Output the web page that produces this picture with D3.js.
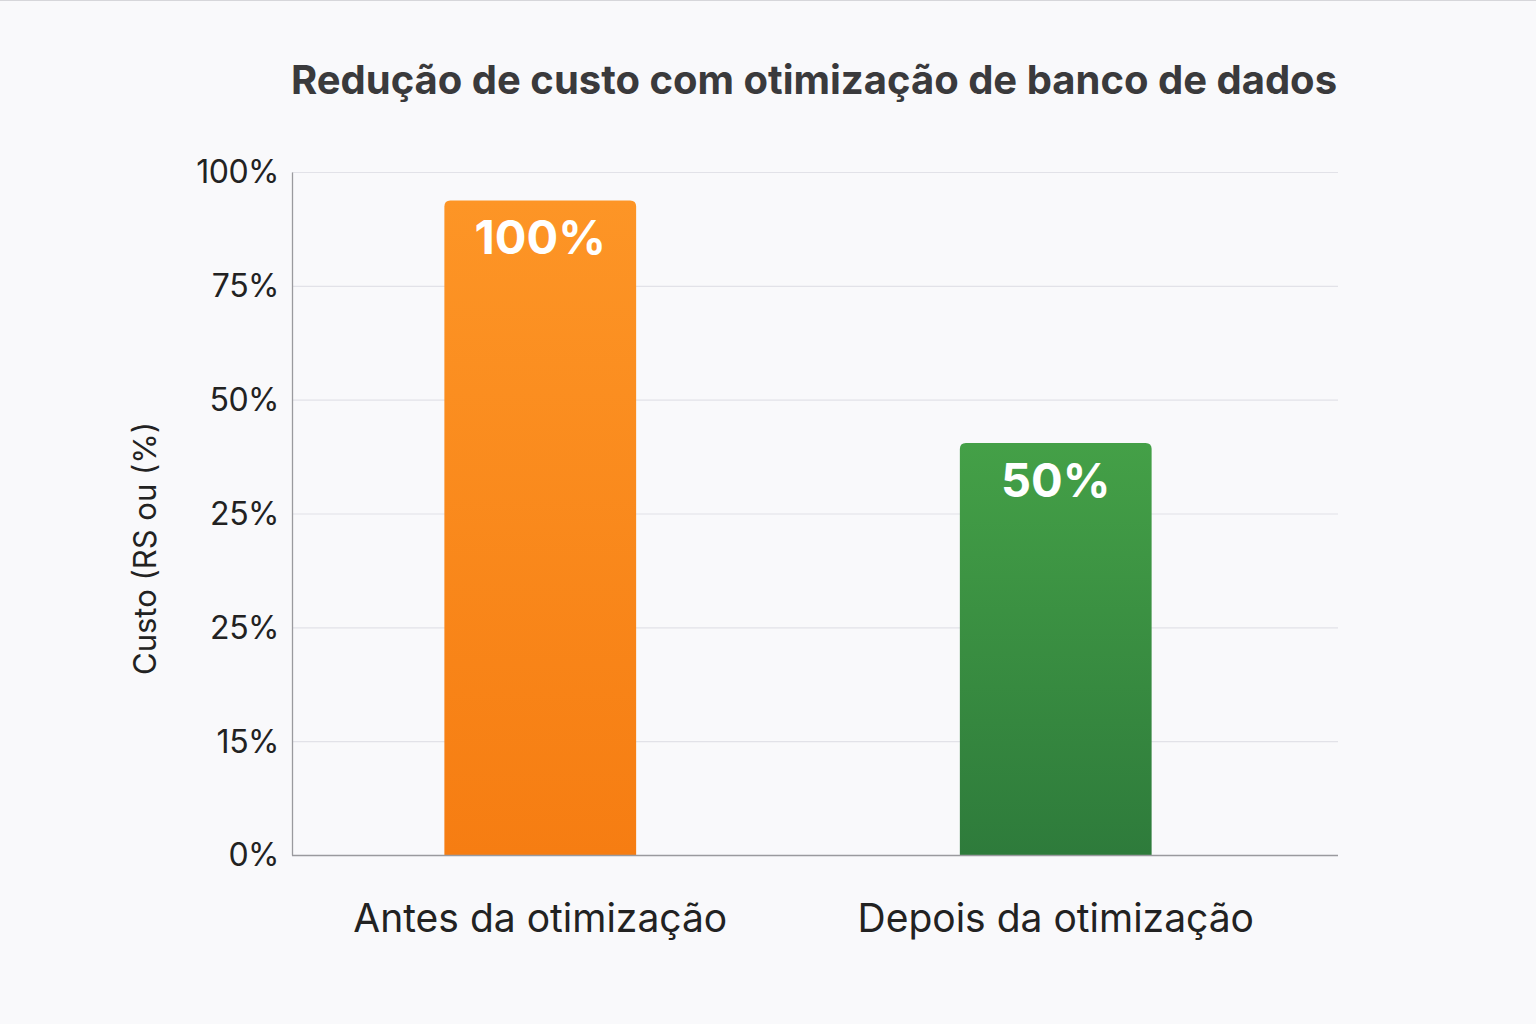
<!DOCTYPE html>
<html>
<head>
<meta charset="utf-8">
<script src="https://cdn.jsdelivr.net/npm/d3@7"></script>
<style>
  html, body { margin: 0; padding: 0; background: #f9f9fb; }
  svg { display: block; font-family: Inter, "Noto Sans", sans-serif; }
</style>
</head>
<body>
<div id="chart"></div>
<script>
// categorias e valores (altura da barra em unidades de linha de grade)
const categories = ["Antes da otimização", "Depois da otimização"];
const barHeights = [5.75, 3.62];
const barLabels = ["100%", "50%"];
// rótulos do eixo y, de baixo para cima, igualmente espaçados como no original
const tickLabels = ["0%", "15%", "25%", "25%", "50%", "75%", "100%"];

const width = 1536, height = 1024;
const margin = { top: 172, right: 198, bottom: 169, left: 292 };
const chartWidth = width - margin.left - margin.right;
const chartHeight = height - margin.top - margin.bottom;
const fontFamily = 'Inter, "Noto Sans", sans-serif';

const svg = d3.select("#chart").append("svg")
    .attr("width", width)
    .attr("height", height);

svg.append("rect")
    .attr("width", width)
    .attr("height", height)
    .attr("fill", "#f9f9fb");

svg.append("line")
    .attr("x1", 0).attr("x2", width)
    .attr("y1", 0.5).attr("y2", 0.5)
    .attr("stroke", "#d6d6da");

// degradês das barras
const defs = svg.append("defs");
const gradients = [
    { id: "gradOrange", top: "#fd9526", bottom: "#f67d12" },
    { id: "gradGreen", top: "#44a047", bottom: "#2e7b3b" }
];
gradients.forEach(gr => {
    const lg = defs.append("linearGradient")
        .attr("id", gr.id)
        .attr("x1", 0).attr("y1", 0).attr("x2", 0).attr("y2", 1);
    lg.append("stop").attr("offset", "0%").attr("stop-color", gr.top);
    lg.append("stop").attr("offset", "100%").attr("stop-color", gr.bottom);
});

const g = svg.append("g")
    .attr("transform", `translate(${margin.left},${margin.top})`);

const yScale = d3.scaleLinear()
    .domain([0, tickLabels.length - 1])
    .range([chartHeight, 0]);

const xScale = d3.scaleBand()
    .domain(categories)
    .range([-10, chartWidth - 24])
    .paddingInner(0.628)
    .paddingOuter(0.315);

// linhas de grade
g.append("g")
    .selectAll("line")
    .data(d3.range(1, tickLabels.length))
    .enter().append("line")
    .attr("x1", 0)
    .attr("x2", chartWidth)
    .attr("y1", d => yScale(d) + 0.5)
    .attr("y2", d => yScale(d) + 0.5)
    .attr("stroke", "#e2e2e8")
    .attr("stroke-width", 1.2);

// eixo y
const yAxis = g.append("g")
    .call(d3.axisLeft(yScale)
        .tickValues(d3.range(tickLabels.length))
        .tickFormat(i => tickLabels[i])
        .tickSize(0)
        .tickPadding(13));
yAxis.attr("font-family", fontFamily);
yAxis.select(".domain").attr("stroke", "#9a9a9e").attr("stroke-width", 1.3);
yAxis.selectAll("text")
    .attr("fill", "#222")
    .style("font-size", "32px")
    .style("letter-spacing", "-0.5px")
    .attr("dy", "0.34em");

// barras
const colors = ["url(#gradOrange)", "url(#gradGreen)"];
g.selectAll(".bar")
    .data(barHeights)
    .enter().append("path")
    .attr("class", "bar")
    .attr("fill", (d, i) => colors[i])
    .attr("d", (d, i) => {
        const x0 = xScale(categories[i]);
        const w = xScale.bandwidth();
        const y0 = yScale(d);
        const y1 = yScale(0);
        const r = 6;
        return `M${x0},${y1} V${y0 + r} Q${x0},${y0} ${x0 + r},${y0} H${x0 + w - r} Q${x0 + w},${y0} ${x0 + w},${y0 + r} V${y1} Z`;
    });

// rótulos das barras
g.selectAll(".bar-label")
    .data(barHeights)
    .enter().append("text")
    .attr("class", "bar-label")
    .attr("x", (d, i) => xScale(categories[i]) + xScale.bandwidth() / 2)
    .attr("y", d => yScale(d) + 54)
    .attr("text-anchor", "middle")
    .attr("fill", "#ffffff")
    .style("font-size", "47px")
    .style("font-weight", "bold")
    .text((d, i) => barLabels[i]);

// eixo x
const xAxis = g.append("g")
    .attr("transform", `translate(0,${chartHeight})`)
    .call(d3.axisBottom(xScale).tickSize(0).tickPadding(49));
xAxis.attr("font-family", fontFamily);
xAxis.select(".domain")
    .attr("d", `M0,0.5H${chartWidth}`)
    .attr("stroke", "#9a9a9e")
    .attr("stroke-width", 1.3);
xAxis.selectAll("text")
    .attr("fill", "#222")
    .style("font-size", "39px");

// título do eixo y
svg.append("text")
    .attr("transform", `translate(156,${margin.top + chartHeight / 2 + 35}) rotate(-90)`)
    .attr("text-anchor", "middle")
    .attr("fill", "#222")
    .style("font-size", "31px")
    .text("Custo (RS ou (%)");

// título
svg.append("text")
    .attr("x", 814)
    .attr("y", 94)
    .attr("text-anchor", "middle")
    .attr("fill", "#3a3a3c")
    .style("font-size", "40px")
    .style("font-weight", "bold")
    .text("Redução de custo com otimização de banco de dados");
</script>
</body>
</html>
